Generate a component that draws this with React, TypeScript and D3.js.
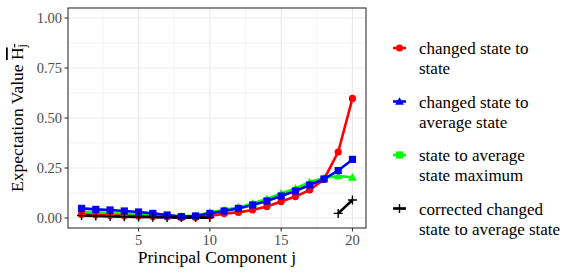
import React, { useEffect, useRef } from "react";
import * as d3 from "d3";

// principal components 1..20
const components = d3.range(1, 21);

const changedToState = [0.018, 0.015, 0.013, 0.011, 0.009, 0.007, 0.005, 0.003, 0.003, 0.01, 0.022, 0.028, 0.04, 0.057, 0.082, 0.107, 0.14, 0.193, 0.33, 0.598];
const changedToAverage = [0.048, 0.043, 0.04, 0.035, 0.03, 0.023, 0.015, 0.007, 0.01, 0.023, 0.035, 0.048, 0.065, 0.085, 0.11, 0.135, 0.165, 0.195, 0.237, 0.293];
const stateToAverageMax = [0.03, 0.028, 0.025, 0.022, 0.02, 0.017, 0.012, 0.008, 0.012, 0.028, 0.04, 0.053, 0.073, 0.095, 0.123, 0.148, 0.18, 0.2, 0.21, 0.203];
const correctedChanged = [0.012, 0.01, 0.008, 0.006, 0.005, 0.004, 0.003, 0.002, 0.002, 0.002, null, null, null, null, null, null, null, null, 0.023, 0.09];

const xTicks = [5, 10, 15, 20];
const yTicks = [0, 0.25, 0.5, 0.75, 1];
const xMinor = [2.5, 7.5, 12.5, 17.5];
const yMinor = [0.125, 0.375, 0.625, 0.875];

const seriesNames = ["changed state to|state", "changed state to|average state", "state to average|state maximum", "corrected changed|state to average state"];
const seriesColors = ["#FF0000", "#0000FF", "#00FF00", "#000000"];

const FONT = "'Liberation Serif', 'DejaVu Serif', serif";

function drawShape(g: any, shape: string, cx: number, cy: number, color: string) {
  if (shape === "circle") {
    g.append("circle").attr("cx", cx).attr("cy", cy).attr("r", 3.6).attr("fill", color);
  } else if (shape === "square") {
    g.append("rect").attr("x", cx - 3.6).attr("y", cy - 3.6).attr("width", 7.2).attr("height", 7.2).attr("fill", color);
  } else if (shape === "triangle") {
    const tri = d3.symbol().type(d3.symbolTriangle).size(34);
    g.append("path").attr("d", tri()).attr("transform", `translate(${cx},${cy + 0.8})`).attr("fill", color);
  } else {
    g.append("path")
      .attr("d", `M${cx - 4.5},${cy}H${cx + 4.5}M${cx},${cy - 4.5}V${cy + 4.5}`)
      .attr("stroke", color).attr("stroke-width", 1.4).attr("fill", "none");
  }
}

export default function App() {
  const ref = useRef<SVGSVGElement>(null);

  useEffect(() => {
    const svg = d3.select(ref.current);
    svg.selectAll("*").remove();

    const left = 68, right = 366, top = 8, bottom = 228;
    const x = d3.scaleLinear().domain([0.05, 20.95]).range([left, right]);
    const y = d3.scaleLinear().domain([-0.05, 1.05]).range([bottom, top]);

    svg.append("rect").attr("width", 581).attr("height", 277).attr("fill", "#fff");

    // grid
    const grid = svg.append("g");
    xMinor.forEach((v) => grid.append("line").attr("x1", x(v)).attr("x2", x(v)).attr("y1", top).attr("y2", bottom).attr("stroke", "#EBEBEB").attr("stroke-width", 0.6));
    yMinor.forEach((v) => grid.append("line").attr("y1", y(v)).attr("y2", y(v)).attr("x1", left).attr("x2", right).attr("stroke", "#EBEBEB").attr("stroke-width", 0.6));
    xTicks.forEach((v) => grid.append("line").attr("x1", x(v)).attr("x2", x(v)).attr("y1", top).attr("y2", bottom).attr("stroke", "#EBEBEB").attr("stroke-width", 1.2));
    yTicks.forEach((v) => grid.append("line").attr("y1", y(v)).attr("y2", y(v)).attr("x1", left).attr("x2", right).attr("stroke", "#EBEBEB").attr("stroke-width", 1.2));

    const allSeries = [changedToState, changedToAverage, stateToAverageMax, correctedChanged];
    const plotShapes = ["circle", "square", "triangle", "plus"];
    const legendShapes = ["circle", "triangle", "square", "plus"];
    const order = [2, 0, 1, 3];

    const line = d3.line<any>()
      .defined((d) => d[1] != null)
      .x((d) => x(d[0]))
      .y((d) => y(d[1]));

    const plot = svg.append("g");
    order.forEach((i) => {
      const pts = components.map((c, k) => [c, allSeries[i][k]]);
      plot.append("path").attr("d", line(pts)).attr("fill", "none")
        .attr("stroke", seriesColors[i]).attr("stroke-width", 2.6).attr("stroke-linejoin", "round");
    });
    order.forEach((i) => {
      components.forEach((c, k) => {
        const v = allSeries[i][k];
        if (v == null) return;
        drawShape(plot, plotShapes[i], x(c), y(v), seriesColors[i]);
      });
    });

    // panel border
    svg.append("rect").attr("x", left).attr("y", top).attr("width", right - left).attr("height", bottom - top)
      .attr("fill", "none").attr("stroke", "#333333").attr("stroke-width", 1.1);

    // axes
    const axes = svg.append("g").attr("font-family", FONT);
    xTicks.forEach((v) => {
      axes.append("line").attr("x1", x(v)).attr("x2", x(v)).attr("y1", bottom).attr("y2", bottom + 3.5).attr("stroke", "#333333").attr("stroke-width", 1.1);
      axes.append("text").attr("x", x(v)).attr("y", bottom + 17).attr("text-anchor", "middle")
        .attr("font-size", 14.5).attr("fill", "#4D4D4D").text(String(v));
    });
    yTicks.forEach((v) => {
      axes.append("line").attr("x1", left - 3.5).attr("x2", left).attr("y1", y(v)).attr("y2", y(v)).attr("stroke", "#333333").attr("stroke-width", 1.1);
      axes.append("text").attr("x", left - 6).attr("y", y(v) + 5).attr("text-anchor", "end")
        .attr("font-size", 14.5).attr("fill", "#4D4D4D").text(d3.format(".2f")(v));
    });

    axes.append("text").attr("x", (left + right) / 2).attr("y", 263).attr("text-anchor", "middle")
      .attr("font-size", 17.5).attr("fill", "#000").text("Principal Component j");

    const yt = axes.append("text").attr("transform", `translate(23,${(top + bottom) / 2}) rotate(-90)`)
      .attr("text-anchor", "middle").attr("font-size", 17.5).attr("fill", "#000");
    yt.append("tspan").text("Expectation Value ");
    yt.append("tspan").style("text-decoration", "overline").text("H");
    yt.append("tspan").attr("font-size", 12).attr("dy", 3).style("text-decoration", "overline").text("j");

    // legend
    const legend = svg.append("g").attr("font-family", FONT);
    seriesNames.forEach((name, i) => {
      const ky = 48 + i * 53.5;
      legend.append("line").attr("x1", 393).attr("x2", 406).attr("y1", ky).attr("y2", ky)
        .attr("stroke", seriesColors[i]).attr("stroke-width", 2.6);
      drawShape(legend, legendShapes[i], 399.5, ky, seriesColors[i]);
      const parts = name.split("|");
      parts.forEach((p, k) => {
        legend.append("text").attr("x", 419).attr("y", ky + 6 + k * 20)
          .attr("font-size", 17).attr("fill", "#000").text(p);
      });
    });
  }, []);

  return <svg ref={ref} width={581} height={277} style={{ position: "absolute", left: 0, top: 0 }} />;
}
